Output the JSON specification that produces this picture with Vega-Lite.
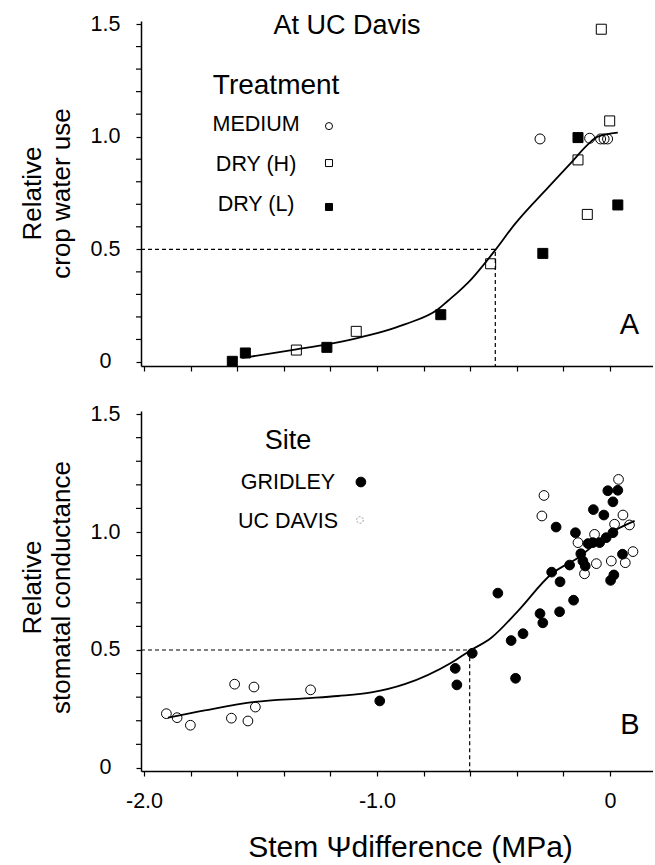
{
  "$schema": "https://vega.github.io/schema/vega-lite/v6.json",
  "background": "white",
  "padding": {"left": 19, "top": 11, "right": 0, "bottom": 0},
  "config": {
    "font": "Liberation Sans",
    "view": {"stroke": null},
    "axis": {
      "grid": false,
      "domainColor": "black",
      "tickColor": "black",
      "labelColor": "black",
      "titleColor": "black",
      "labelFont": "Liberation Sans",
      "titleFont": "Liberation Sans",
      "titleFontWeight": "normal",
      "domainWidth": 1.5,
      "tickWidth": 1.2,
      "labelOverlap": false
    },
    "text": {"font": "Liberation Sans", "color": "black"}
  },
  "datasets": {
    "cropWater": [
      {"psi": -0.30, "rel": 0.99, "treatment": "MEDIUM"},
      {"psi": -0.087, "rel": 0.993, "treatment": "MEDIUM"},
      {"psi": -0.04, "rel": 0.99, "treatment": "MEDIUM"},
      {"psi": -0.025, "rel": 0.99, "treatment": "MEDIUM"},
      {"psi": -0.01, "rel": 0.99, "treatment": "MEDIUM"},
      {"psi": -1.346, "rel": 0.053, "treatment": "DRY (H)"},
      {"psi": -1.089, "rel": 0.136, "treatment": "DRY (H)"},
      {"psi": -0.512, "rel": 0.436, "treatment": "DRY (H)"},
      {"psi": -0.137, "rel": 0.897, "treatment": "DRY (H)"},
      {"psi": -0.097, "rel": 0.655, "treatment": "DRY (H)"},
      {"psi": -0.001, "rel": 1.07, "treatment": "DRY (H)"},
      {"psi": -0.037, "rel": 1.477, "treatment": "DRY (H)"},
      {"psi": -1.621, "rel": 0.003, "treatment": "DRY (L)"},
      {"psi": -1.565, "rel": 0.04, "treatment": "DRY (L)"},
      {"psi": -1.215, "rel": 0.065, "treatment": "DRY (L)"},
      {"psi": -0.726, "rel": 0.21, "treatment": "DRY (L)"},
      {"psi": -0.288, "rel": 0.482, "treatment": "DRY (L)"},
      {"psi": -0.137, "rel": 0.996, "treatment": "DRY (L)"},
      {"psi": 0.034, "rel": 0.697, "treatment": "DRY (L)"}
    ],
    "curveA": [
      {"psi": -1.58, "rel": 0.018},
      {"psi": -1.554, "rel": 0.022},
      {"psi": -1.346, "rel": 0.056},
      {"psi": -1.215, "rel": 0.078},
      {"psi": -1.089, "rel": 0.105},
      {"psi": -0.881, "rel": 0.167},
      {"psi": -0.738, "rel": 0.234},
      {"psi": -0.695, "rel": 0.272},
      {"psi": -0.652, "rel": 0.31},
      {"psi": -0.609, "rel": 0.352},
      {"psi": -0.495, "rel": 0.493},
      {"psi": -0.409, "rel": 0.611},
      {"psi": -0.266, "rel": 0.774},
      {"psi": -0.166, "rel": 0.885},
      {"psi": -0.094, "rel": 0.966},
      {"psi": -0.052, "rel": 1.0},
      {"psi": 0.034, "rel": 1.018}
    ],
    "stomatal": [
      {"psi": -1.904, "rel": 0.230, "site": "UC DAVIS"},
      {"psi": -1.858, "rel": 0.213, "site": "UC DAVIS"},
      {"psi": -1.801, "rel": 0.181, "site": "UC DAVIS"},
      {"psi": -1.611, "rel": 0.355, "site": "UC DAVIS"},
      {"psi": -1.625, "rel": 0.211, "site": "UC DAVIS"},
      {"psi": -1.528, "rel": 0.343, "site": "UC DAVIS"},
      {"psi": -1.522, "rel": 0.258, "site": "UC DAVIS"},
      {"psi": -1.554, "rel": 0.199, "site": "UC DAVIS"},
      {"psi": -1.285, "rel": 0.331, "site": "UC DAVIS"},
      {"psi": -0.283, "rel": 1.155, "site": "UC DAVIS"},
      {"psi": -0.292, "rel": 1.068, "site": "UC DAVIS"},
      {"psi": 0.037, "rel": 1.223, "site": "UC DAVIS"},
      {"psi": 0.056, "rel": 1.072, "site": "UC DAVIS"},
      {"psi": 0.02, "rel": 1.033, "site": "UC DAVIS"},
      {"psi": 0.084, "rel": 1.03, "site": "UC DAVIS"},
      {"psi": -0.066, "rel": 0.99, "site": "UC DAVIS"},
      {"psi": -0.137, "rel": 0.955, "site": "UC DAVIS"},
      {"psi": -0.058, "rel": 0.866, "site": "UC DAVIS"},
      {"psi": -0.109, "rel": 0.823, "site": "UC DAVIS"},
      {"psi": 0.006, "rel": 0.877, "site": "UC DAVIS"},
      {"psi": 0.066, "rel": 0.870, "site": "UC DAVIS"},
      {"psi": 0.099, "rel": 0.917, "site": "UC DAVIS"},
      {"psi": -0.988, "rel": 0.284, "site": "GRIDLEY"},
      {"psi": -0.664, "rel": 0.422, "site": "GRIDLEY"},
      {"psi": -0.657, "rel": 0.352, "site": "GRIDLEY"},
      {"psi": -0.591, "rel": 0.486, "site": "GRIDLEY"},
      {"psi": -0.481, "rel": 0.741, "site": "GRIDLEY"},
      {"psi": -0.424, "rel": 0.540, "site": "GRIDLEY"},
      {"psi": -0.405, "rel": 0.380, "site": "GRIDLEY"},
      {"psi": -0.373, "rel": 0.569, "site": "GRIDLEY"},
      {"psi": -0.300, "rel": 0.654, "site": "GRIDLEY"},
      {"psi": -0.288, "rel": 0.615, "site": "GRIDLEY"},
      {"psi": -0.216, "rel": 0.662, "site": "GRIDLEY"},
      {"psi": -0.156, "rel": 0.711, "site": "GRIDLEY"},
      {"psi": -0.214, "rel": 0.789, "site": "GRIDLEY"},
      {"psi": -0.250, "rel": 0.830, "site": "GRIDLEY"},
      {"psi": -0.173, "rel": 0.860, "site": "GRIDLEY"},
      {"psi": -0.231, "rel": 1.021, "site": "GRIDLEY"},
      {"psi": -0.148, "rel": 0.997, "site": "GRIDLEY"},
      {"psi": -0.071, "rel": 1.095, "site": "GRIDLEY"},
      {"psi": -0.026, "rel": 1.072, "site": "GRIDLEY"},
      {"psi": -0.009, "rel": 1.175, "site": "GRIDLEY"},
      {"psi": 0.034, "rel": 1.177, "site": "GRIDLEY"},
      {"psi": 0.013, "rel": 1.128, "site": "GRIDLEY"},
      {"psi": 0.013, "rel": 0.997, "site": "GRIDLEY"},
      {"psi": -0.016, "rel": 0.976, "site": "GRIDLEY"},
      {"psi": -0.073, "rel": 0.955, "site": "GRIDLEY"},
      {"psi": -0.044, "rel": 0.955, "site": "GRIDLEY"},
      {"psi": -0.094, "rel": 0.951, "site": "GRIDLEY"},
      {"psi": -0.125, "rel": 0.908, "site": "GRIDLEY"},
      {"psi": -0.116, "rel": 0.877, "site": "GRIDLEY"},
      {"psi": -0.106, "rel": 0.856, "site": "GRIDLEY"},
      {"psi": 0.054, "rel": 0.906, "site": "GRIDLEY"},
      {"psi": 0.017, "rel": 0.818, "site": "GRIDLEY"},
      {"psi": 0.003, "rel": 0.795, "site": "GRIDLEY"}
    ],
    "curveB": [
      {"psi": -1.897, "rel": 0.213},
      {"psi": -1.739, "rel": 0.244},
      {"psi": -1.525, "rel": 0.28},
      {"psi": -1.31, "rel": 0.295},
      {"psi": -1.167, "rel": 0.305},
      {"psi": -1.024, "rel": 0.32},
      {"psi": -0.881, "rel": 0.355},
      {"psi": -0.681, "rel": 0.446},
      {"psi": -0.602, "rel": 0.496},
      {"psi": -0.509, "rel": 0.552},
      {"psi": -0.395, "rel": 0.665},
      {"psi": -0.252, "rel": 0.821},
      {"psi": -0.137, "rel": 0.891},
      {"psi": -0.009, "rel": 0.99},
      {"psi": 0.106, "rel": 1.047}
    ],
    "thresholdA": [
      {"psi": -2.013, "rel": 0.5, "step": 1},
      {"psi": -0.492, "rel": 0.5, "step": 2},
      {"psi": -0.492, "rel": -0.0178, "step": 3}
    ],
    "thresholdB": [
      {"psi": -2.013, "rel": 0.5, "step": 1},
      {"psi": -0.602, "rel": 0.5, "step": 2},
      {"psi": -0.602, "rel": -0.013, "step": 3}
    ],
    "minorTicks": [
      {"rel": 0.1}, {"rel": 0.2}, {"rel": 0.3}, {"rel": 0.4},
      {"rel": 0.6}, {"rel": 0.7}, {"rel": 0.8}, {"rel": 0.9},
      {"rel": 1.1}, {"rel": 1.2}, {"rel": 1.3}, {"rel": 1.4}
    ]
  },
  "spacing": 45,
  "bounds": "flush",
  "resolve": {"scale": {"fill": "independent", "shape": "independent"}},
  "vconcat": [
    {
      "width": 512,
      "height": 345,
      "layer": [
        {
          "data": {"name": "curveA"},
          "mark": {"type": "line", "color": "black", "strokeWidth": 1.8, "interpolate": "monotone"},
          "encoding": {
            "x": {
              "field": "psi", "type": "quantitative",
              "scale": {"domain": [-2.013, 0.185], "nice": false, "zero": false},
              "axis": {
                "values": [-2, -1.8, -1.6, -1.4, -1.2, -1, -0.8, -0.6, -0.4, -0.2, 0],
                "labels": false, "tickSize": 5, "title": null
              }
            },
            "y": {
              "field": "rel", "type": "quantitative",
              "scale": {"domain": [-0.0178, 1.5135], "nice": false, "zero": false},
              "axis": {
                "values": [0, 0.5, 1, 1.5],
                "labelExpr": "datum.value == 0 ? '0' : format(datum.value, '.1f')",
                "labelFontSize": 21.5,
                "labelAlign": "center", "labelBaseline": "middle", "labelPadding": 31,
                "labelOverlap": false, "labelBound": false, "labelFlush": false,
                "tickSize": 5,
                "title": ["Relative", "crop water use"],
                "titleFontSize": 26, "titleAlign": "center", "titleBaseline": "middle",
                "titleAngle": -90, "titleX": -108.5, "titleY": 172, "titleLineHeight": 29
              }
            }
          }
        },
        {
          "data": {"name": "minorTicks"},
          "mark": {"type": "tick", "orient": "horizontal", "size": 5, "thickness": 1.2, "color": "black", "xOffset": -2.5, "opacity": 1},
          "encoding": {
            "x": {"datum": -2.013, "type": "quantitative"},
            "y": {"field": "rel", "type": "quantitative"}
          }
        },
        {
          "data": {"name": "thresholdA"},
          "mark": {"type": "line", "color": "black", "strokeWidth": 1.2, "strokeDash": [4, 3]},
          "encoding": {
            "x": {"field": "psi", "type": "quantitative"},
            "y": {"field": "rel", "type": "quantitative"},
            "order": {"field": "step", "type": "quantitative"}
          }
        },
        {
          "data": {"name": "cropWater"},
          "mark": {"type": "point", "filled": true, "stroke": "black", "strokeWidth": 1, "size": 100, "opacity": 1},
          "encoding": {
            "x": {"field": "psi", "type": "quantitative"},
            "y": {"field": "rel", "type": "quantitative"},
            "shape": {"field": "treatment", "type": "nominal", "scale": {"domain": ["MEDIUM", "DRY (H)", "DRY (L)"], "range": ["circle", "square", "square"]}, "legend": null},
            "fill": {"field": "treatment", "type": "nominal", "scale": {"domain": ["MEDIUM", "DRY (H)", "DRY (L)"], "range": ["transparent", "transparent", "black"]}, "legend": null}
          }
        },
        {
          "data": {"values": [{"label": "At UC Davis"}]},
          "mark": {"type": "text", "fontSize": 27, "align": "center", "baseline": "alphabetic"},
          "encoding": {"x": {"datum": -1.129, "type": "quantitative"}, "y": {"datum": 1.456, "type": "quantitative"}, "text": {"field": "label", "type": "nominal"}}
        },
        {
          "data": {"values": [{"label": "Treatment"}]},
          "mark": {"type": "text", "fontSize": 28, "align": "center", "baseline": "alphabetic"},
          "encoding": {"x": {"datum": -1.433, "type": "quantitative"}, "y": {"datum": 1.19, "type": "quantitative"}, "text": {"field": "label", "type": "nominal"}}
        },
        {
          "data": {"values": [{"label": "MEDIUM"}]},
          "mark": {"type": "text", "fontSize": 21.5, "align": "center", "baseline": "alphabetic"},
          "encoding": {"x": {"datum": -1.519, "type": "quantitative"}, "y": {"datum": 1.025, "type": "quantitative"}, "text": {"field": "label", "type": "nominal"}}
        },
        {
          "data": {"values": [{"label": "DRY (H)"}]},
          "mark": {"type": "text", "fontSize": 21.5, "align": "center", "baseline": "alphabetic"},
          "encoding": {"x": {"datum": -1.519, "type": "quantitative"}, "y": {"datum": 0.848, "type": "quantitative"}, "text": {"field": "label", "type": "nominal"}}
        },
        {
          "data": {"values": [{"label": "DRY (L)"}]},
          "mark": {"type": "text", "fontSize": 21.5, "align": "center", "baseline": "alphabetic"},
          "encoding": {"x": {"datum": -1.519, "type": "quantitative"}, "y": {"datum": 0.67, "type": "quantitative"}, "text": {"field": "label", "type": "nominal"}}
        },
        {
          "data": {"values": [{"treatment": "MEDIUM"}]},
          "mark": {"type": "point", "shape": "circle", "filled": true, "fill": "transparent", "stroke": "black", "strokeWidth": 1, "size": 50, "opacity": 1},
          "encoding": {"x": {"datum": -1.206, "type": "quantitative"}, "y": {"datum": 1.047, "type": "quantitative"}}
        },
        {
          "data": {"values": [{"treatment": "DRY (H)"}]},
          "mark": {"type": "point", "shape": "square", "filled": true, "fill": "transparent", "stroke": "black", "strokeWidth": 1, "size": 49, "opacity": 1},
          "encoding": {"x": {"datum": -1.206, "type": "quantitative"}, "y": {"datum": 0.883, "type": "quantitative"}}
        },
        {
          "data": {"values": [{"treatment": "DRY (L)"}]},
          "mark": {"type": "point", "shape": "square", "filled": true, "fill": "black", "stroke": "black", "strokeWidth": 1, "size": 49, "opacity": 1},
          "encoding": {"x": {"datum": -1.206, "type": "quantitative"}, "y": {"datum": 0.688, "type": "quantitative"}}
        },
        {
          "data": {"values": [{"label": "A"}]},
          "mark": {"type": "text", "fontSize": 29, "align": "center", "baseline": "alphabetic"},
          "encoding": {"x": {"datum": 0.084, "type": "quantitative"}, "y": {"datum": 0.124, "type": "quantitative"}, "text": {"field": "label", "type": "nominal"}}
        }
      ]
    },
    {
      "width": 512,
      "height": 360,
      "layer": [
        {
          "data": {"name": "curveB"},
          "mark": {"type": "line", "color": "black", "strokeWidth": 1.8, "interpolate": "monotone"},
          "encoding": {
            "x": {
              "field": "psi", "type": "quantitative",
              "scale": {"domain": [-2.013, 0.185], "nice": false, "zero": false},
              "axis": {
                "values": [-2, -1.8, -1.6, -1.4, -1.2, -1, -0.8, -0.6, -0.4, -0.2, 0],
                "labelExpr": "abs(datum.value + 2) < 0.001 ? '-2.0' : abs(datum.value + 1) < 0.001 ? '-1.0' : abs(datum.value) < 0.001 ? '0' : ''",
                "labelFontSize": 21.5, "labelPadding": 14, "labelOverlap": false, "labelBound": false, "labelFlush": false,
                "tickSize": 5,
                "title": "Stem Ψdifference (MPa)",
                "titleFontSize": 30, "titleAlign": "center", "titleBaseline": "alphabetic",
                "titleX": 269, "titleY": 85.6
              }
            },
            "y": {
              "field": "rel", "type": "quantitative",
              "scale": {"domain": [-0.013, 1.513], "nice": false, "zero": false},
              "axis": {
                "values": [0, 0.5, 1, 1.5],
                "labelExpr": "datum.value == 0 ? '0' : format(datum.value, '.1f')",
                "labelFontSize": 21.5,
                "labelAlign": "center", "labelBaseline": "middle", "labelPadding": 31,
                "labelOverlap": false, "labelBound": false, "labelFlush": false,
                "tickSize": 5,
                "title": ["Relative", "stomatal conductance"],
                "titleFontSize": 26, "titleAlign": "center", "titleBaseline": "middle",
                "titleAngle": -90, "titleX": -108.5, "titleY": 176, "titleLineHeight": 29
              }
            }
          }
        },
        {
          "data": {"name": "minorTicks"},
          "mark": {"type": "tick", "orient": "horizontal", "size": 5, "thickness": 1.2, "color": "black", "xOffset": -2.5, "opacity": 1},
          "encoding": {
            "x": {"datum": -2.013, "type": "quantitative"},
            "y": {"field": "rel", "type": "quantitative"}
          }
        },
        {
          "data": {"name": "thresholdB"},
          "mark": {"type": "line", "color": "black", "strokeWidth": 1.2, "strokeDash": [4, 3]},
          "encoding": {
            "x": {"field": "psi", "type": "quantitative"},
            "y": {"field": "rel", "type": "quantitative"},
            "order": {"field": "step", "type": "quantitative"}
          }
        },
        {
          "data": {"name": "stomatal"},
          "mark": {"type": "point", "shape": "circle", "filled": true, "stroke": "black", "strokeWidth": 1, "size": 95, "opacity": 1},
          "encoding": {
            "x": {"field": "psi", "type": "quantitative"},
            "y": {"field": "rel", "type": "quantitative"},
            "fill": {"field": "site", "type": "nominal", "scale": {"domain": ["GRIDLEY", "UC DAVIS"], "range": ["black", "transparent"]}, "legend": null}
          }
        },
        {
          "data": {"values": [{"label": "Site"}]},
          "mark": {"type": "text", "fontSize": 27, "align": "center", "baseline": "alphabetic"},
          "encoding": {"x": {"datum": -1.382, "type": "quantitative"}, "y": {"datum": 1.352, "type": "quantitative"}, "text": {"field": "label", "type": "nominal"}}
        },
        {
          "data": {"values": [{"label": "GRIDLEY"}]},
          "mark": {"type": "text", "fontSize": 21.5, "align": "center", "baseline": "alphabetic"},
          "encoding": {"x": {"datum": -1.382, "type": "quantitative"}, "y": {"datum": 1.182, "type": "quantitative"}, "text": {"field": "label", "type": "nominal"}}
        },
        {
          "data": {"values": [{"label": "UC DAVIS"}]},
          "mark": {"type": "text", "fontSize": 21.5, "align": "center", "baseline": "alphabetic"},
          "encoding": {"x": {"datum": -1.382, "type": "quantitative"}, "y": {"datum": 1.017, "type": "quantitative"}, "text": {"field": "label", "type": "nominal"}}
        },
        {
          "data": {"values": [{"site": "GRIDLEY"}]},
          "mark": {"type": "point", "shape": "circle", "filled": true, "fill": "black", "stroke": "black", "strokeWidth": 1, "size": 95, "opacity": 1},
          "encoding": {"x": {"datum": -1.069, "type": "quantitative"}, "y": {"datum": 1.212, "type": "quantitative"}}
        },
        {
          "data": {"values": [{"site": "UC DAVIS"}]},
          "mark": {"type": "point", "shape": "circle", "filled": true, "fill": "transparent", "stroke": "#888888", "strokeWidth": 0.8, "strokeDash": [2, 1.5], "size": 45, "opacity": 1},
          "encoding": {"x": {"datum": -1.073, "type": "quantitative"}, "y": {"datum": 1.051, "type": "quantitative"}}
        },
        {
          "data": {"values": [{"label": "B"}]},
          "mark": {"type": "text", "fontSize": 29, "align": "center", "baseline": "alphabetic"},
          "encoding": {"x": {"datum": 0.086, "type": "quantitative"}, "y": {"datum": 0.144, "type": "quantitative"}, "text": {"field": "label", "type": "nominal"}}
        }
      ]
    }
  ]
}
